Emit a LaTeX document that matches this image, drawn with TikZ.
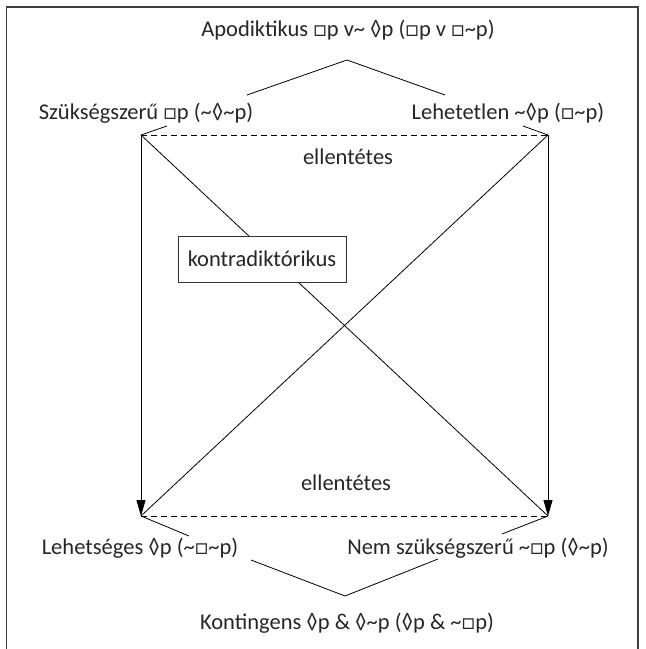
\documentclass[tikz,border=0pt]{standalone}
\usepackage{fontspec}
\setmainfont{Carlito}
\usetikzlibrary{arrows.meta}
\begin{document}
\begin{tikzpicture}[x=1pt,y=-1pt,
  lbl/.style={inner sep=0pt, font=\fontsize{22.5}{26}\selectfont, text=black!85},
  ln/.style={draw=black, line width=0.8pt},
  dash line/.style={ln, dash pattern=on 6pt off 4pt},
  frame/.style={draw=black!75, line width=1.5pt}]
\useasboundingbox (0,0) rectangle (646,649);
% frame
\draw[frame] (6.5,649) -- (6.5,7) -- (638,7) -- (638,649);
% labels
\node[lbl] (apo) at (348,30) {Apodiktikus □p v\textasciitilde{} ◊p (□p v □\textasciitilde p)};
\node[lbl] (sz) at (146,113) {Szükségszerű □p (\textasciitilde◊\textasciitilde p)};
\node[lbl] (lt) at (508,113) {Lehetetlen \textasciitilde◊p (□\textasciitilde p)};
\node[lbl] (e1) at (348,157) {ellentétes};
\node[lbl] (e2) at (346,483) {ellentétes};
\node[lbl] (lh) at (140,548) {Lehetséges ◊p (\textasciitilde□\textasciitilde p)};
\node[lbl] (nsz) at (478,548) {Nem szükségszerű \textasciitilde□p (◊\textasciitilde p)};
\node[lbl] (kon) at (347,623) {Kontingens ◊p \& ◊\textasciitilde p (◊p \& \textasciitilde□p)};
% corners
\coordinate (tl) at (141,135);
\coordinate (tr) at (548,135);
\coordinate (bl) at (141,516);
\coordinate (br) at (548,516);
% short links between labels and corners
\draw[ln] (tl) -- (167,126);
\draw[ln] (tr) -- (523,126);
\draw[ln] (bl) -- (189,536);
\draw[ln] (br) -- (502,534);
% V shapes
\coordinate (v1a) at (247,95);
\coordinate (v1b) at (347,60);
\coordinate (v1c) at (445,95);
\coordinate (v2a) at (251,560);
\coordinate (v2b) at (345,596);
\coordinate (v2c) at (438,559);
\draw[ln] (v1a) -- (v1b) -- (v1c);
\draw[ln] (v2a) -- (v2b) -- (v2c);
% square
\draw[dash line] (tl) -- (tr);
\draw[dash line] (bl) -- (br);
\draw[ln, -{Triangle[length=16pt,width=9pt]}] (tl) -- (bl);
\draw[ln, -{Triangle[length=16pt,width=9pt]}] (tr) -- (br);
\draw[ln] (tl) -- (br);
\draw[ln] (tr) -- (bl);
\node[lbl, draw=black!80, line width=0.8pt, fill=white, minimum width=168pt, minimum height=46pt] (kd) at (262,259) {kontradiktórikus};
\end{tikzpicture}
\end{document}
